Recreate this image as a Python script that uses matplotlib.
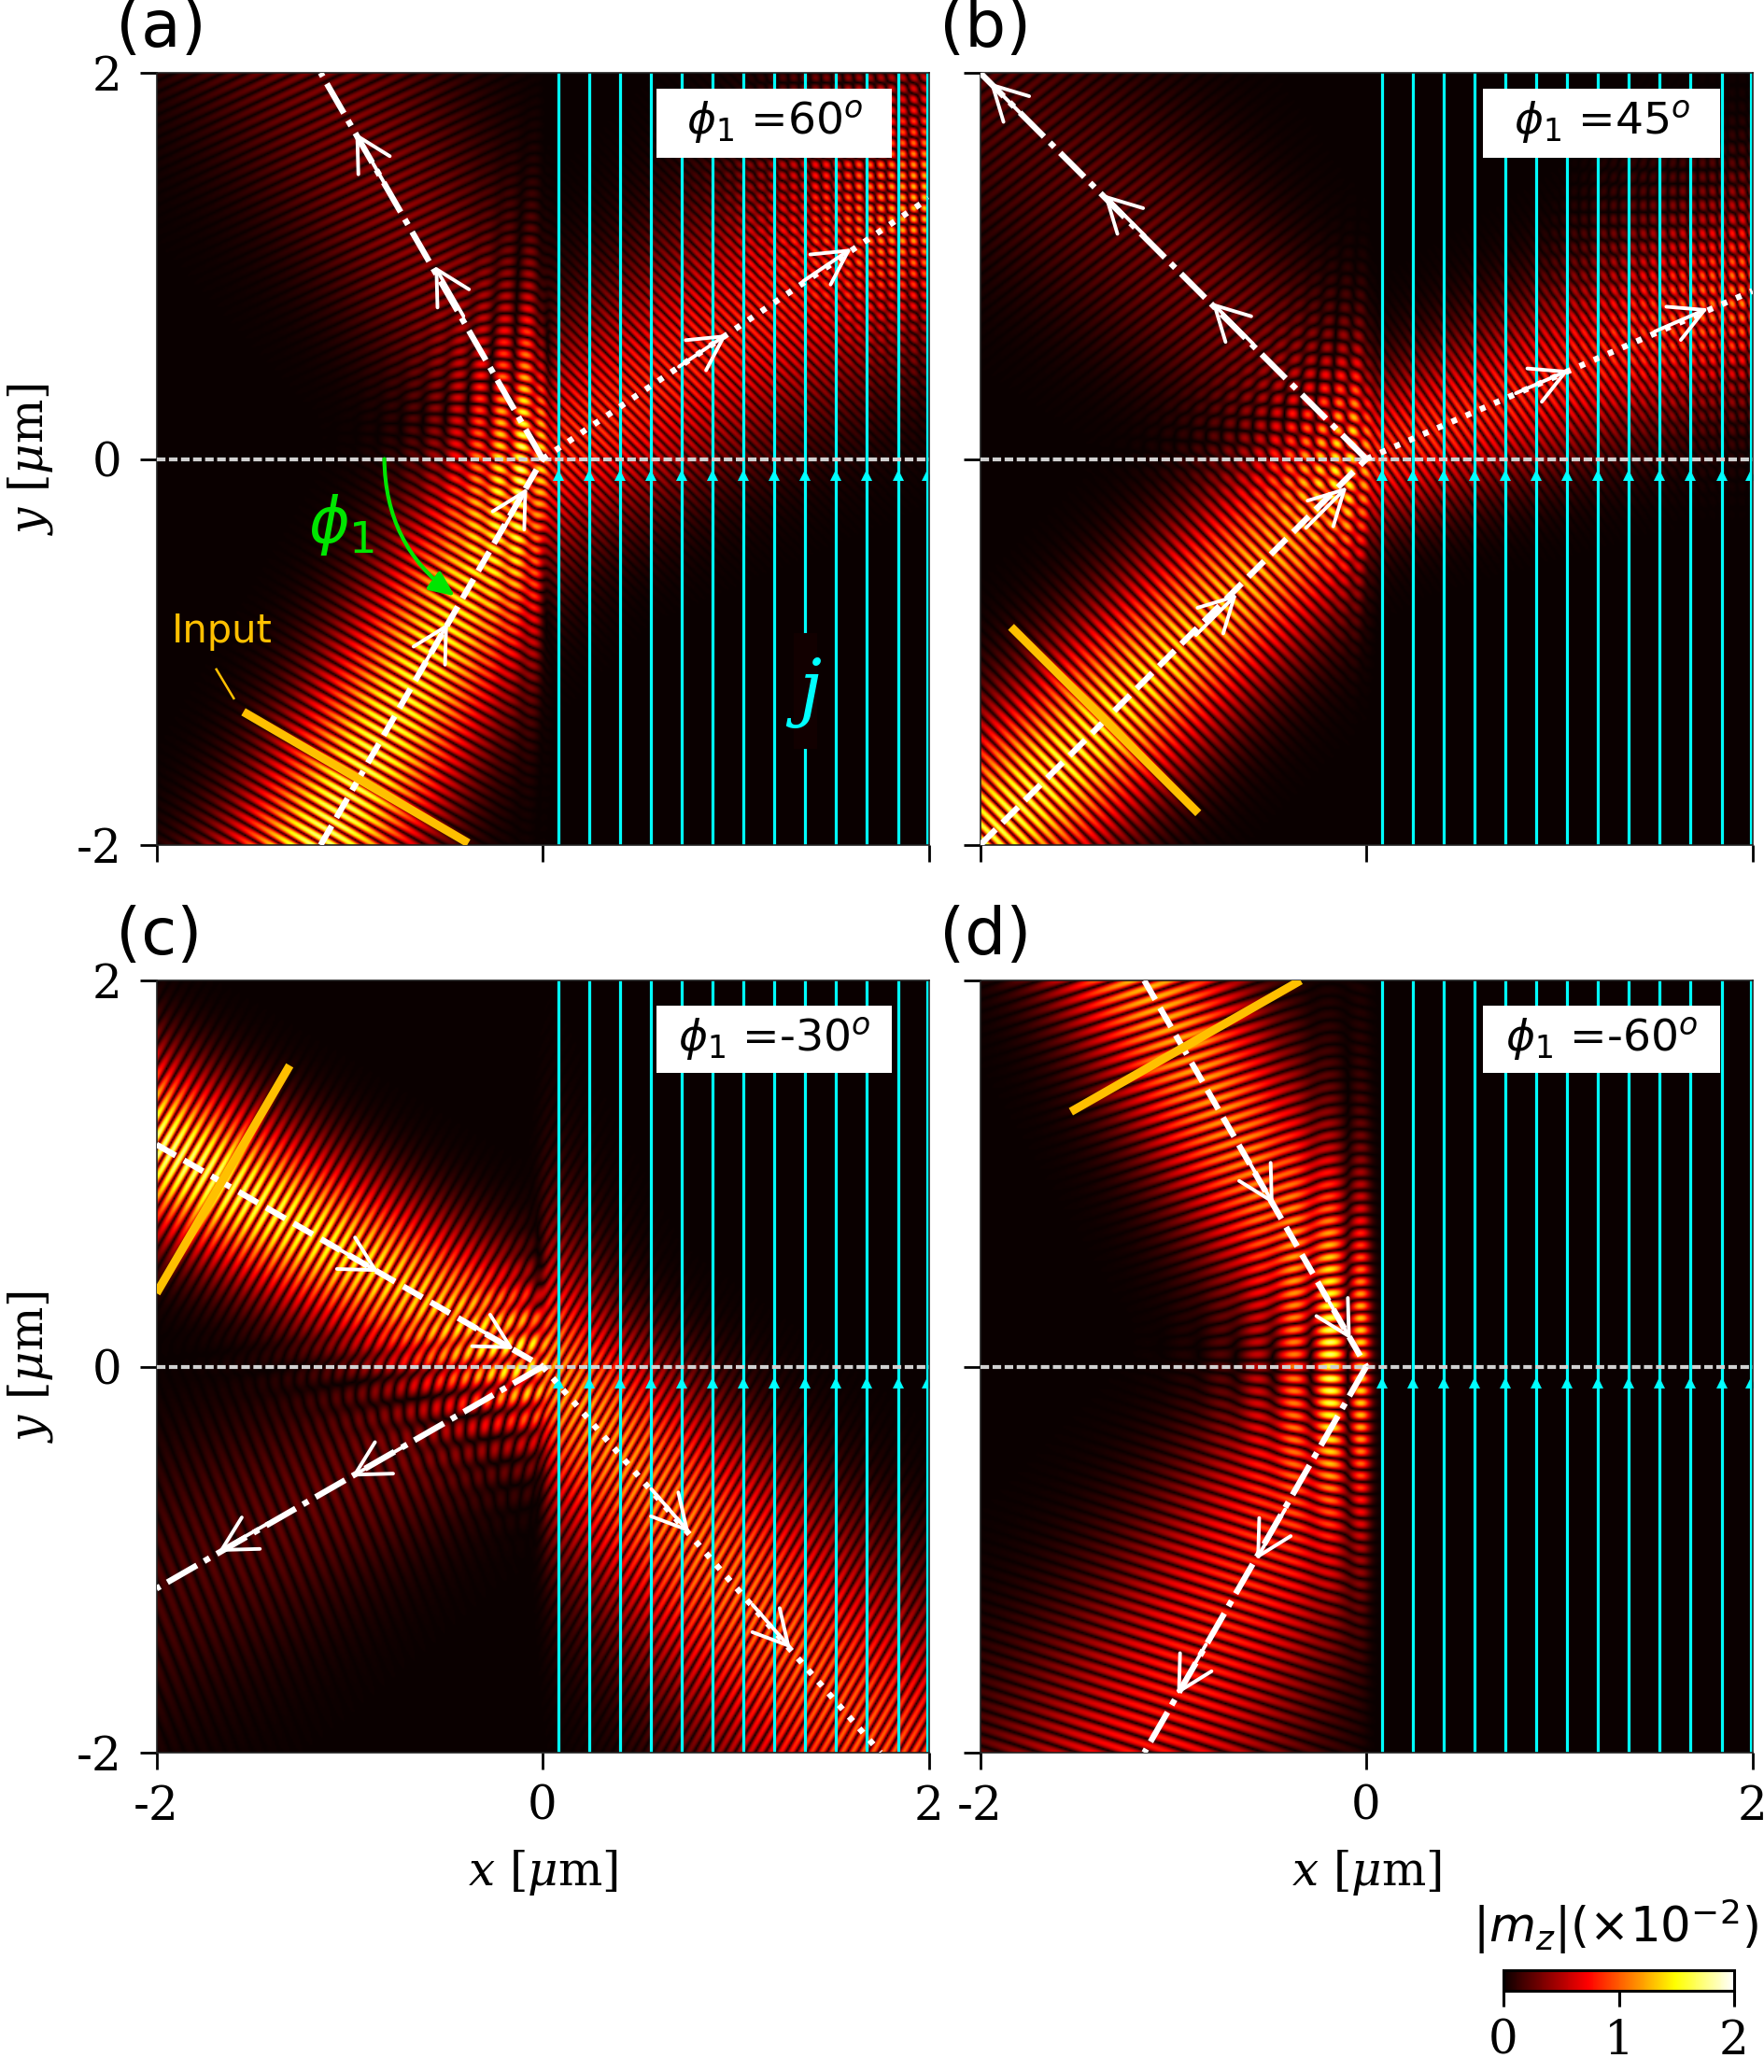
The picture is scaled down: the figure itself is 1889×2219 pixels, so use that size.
import numpy as np
import matplotlib
matplotlib.use('Agg')
from matplotlib import pyplot as plt
from matplotlib.patches import Rectangle

W, H = 1889, 2219
DPI = 100

## panels, order a b c d
panel_tags = ['(a)', '(b)', '(c)', '(d)']
panel_angles = ['60', '45', '-30', '-60']
tick_vals = [-2, 0, 2]
tick_text = ['-2', '0', '2']
cbar_ticks = [0, 1, 2]

## beam directions [deg], wave vector directions [deg]
inc_dir = [60, 45, -30, -60]
inc_k = [60, 45, -30, -72]
ref_dir = [120, 135, 210, 240]
ref_k = [115, 128, 202, 252]
trn_dir = [34, 23.5, -49, 0]
trn_k = [45, 35, -30, 0]

## amplitudes (near interface, far away) and sigma widths in um
inc_amp = [(1.4, 1.75), (1.2, 1.65), (1.25, 1.8), (1.0, 1.3)]
ref_amp = [(0.5, 0.35), (0.45, 0.25), (0.42, 0.2), (1.0, 0.8)]
trn_amp = [(0.95, 0.8), (0.95, 0.8), (1.3, 1.05), (0.0, 0.0)]
inc_w = [0.3, 0.3, 0.27, 0.3]
ref_w = [(0.25, 0.45), (0.25, 0.45), (0.25, 0.45), (0.3, 0.5)]
trn_w = [(0.33, 0.48), (0.25, 0.36), (0.3, 0.48), (0.3, 0.3)]

## fringe periods in um
inc_period = [0.053, 0.053, 0.053, 0.06]
ref_period = [0.053, 0.053, 0.066, 0.06]
trn_period = [0.04, 0.042, 0.046, 0.046]

## reflection off the right edge of the window: origin, dir, k dir, amp
edge_origin = [(2, 1.35), (2, 0.87), None, None]
edge_dir = [146, 156.5, 0, 0]
edge_k = [135, 145, 0, 0]
edge_amp = [(0.6, -0.6), (0.4, -0.4), (0, 0), (0, 0)]

## guide lines, end points in um
inc_end = [(-1.15, -2), (-2, -2), (-2, 1.15), (-1.15, 2)]
ref_end = [(-1.15, 2), (-2, 2), (-2, -1.15), (-1.15, -2)]
trn_end = [(2, 1.35), (2, 0.87), (1.75, -2), None]

## arrow tips along them
inc_tips = [[(-0.49, -0.85), (-0.08, -0.15)], [(-0.67, -0.70), (-0.10, -0.145)],
            [(-0.85, 0.49), (-0.15, 0.09)], [(-0.48, 0.84), (-0.08, 0.14)]]
ref_tips = [[(-0.56, 1.0), (-0.97, 1.69)], [(-0.80, 0.81), (-1.36, 1.37), (-1.95, 1.95)],
            [(-0.99, -0.57), (-1.68, -0.96)], [(-0.57, -1.0), (-0.98, -1.70)]]
trn_tips = [[(0.955, 0.646), (1.6, 1.09)], [(1.05, 0.46), (1.77, 0.78)],
            [(0.76, -0.86), (1.285, -1.46)], []]

## input line end points
input_lines = [((-1.55, -1.31), (-0.385, -1.99)), ((-1.84, -0.87), (-0.87, -1.835)),
               ((-2, 0.38), (-1.31, 1.56)), ((-1.53, 1.32), (-0.34, 2.0))]

## current stream lines
j_x = [0.08, 0.24, 0.40, 0.56, 0.72, 0.88, 1.04, 1.20, 1.36, 1.52, 1.68, 1.84, 1.99]

## label boxes x0,x1,y0,y1
box_x = [(0.59, 1.81), (0.605, 1.835), (0.59, 1.81), (0.605, 1.835)]
box_y = [(1.56, 1.92), (1.56, 1.92), (1.52, 1.87), (1.52, 1.87)]

AX_LEFT = [167.6, 1049.6, 167.6, 1049.6]
AX_TOP = [78, 78, 1050, 1050]
AX_SIZE = 827

plt.rcParams['font.family'] = ['DejaVu Sans']
plt.rcParams['axes.unicode_minus'] = False
plt.rcParams['axes.linewidth'] = 1.2
plt.rcParams['axes.edgecolor'] = '#222222'

grid = np.linspace(-2, 2, 512)
X, Y = np.meshgrid(grid, grid)


def oneBeam(direction, kdir, amp, width, period, origin=(0, 0)):
	dr = np.radians(direction)
	kr = np.radians(kdir)
	xs = X-origin[0]
	ys = Y-origin[1]
	s = xs*np.cos(dr) + ys*np.sin(dr)
	d = -xs*np.sin(dr) + ys*np.cos(dr)
	dist = np.clip(np.abs(s)/2.3, 0, 1)
	a = np.maximum(amp[0] + (amp[1]-amp[0])*dist, 0)
	w = width[0] + (width[1]-width[0])*dist
	phase = np.pi/period*(X*np.cos(kr) + Y*np.sin(kr))
	return a*np.exp(-d**2/(2*w**2))*np.cos(phase)


def panelField(i):
	left = 1/(1 + np.exp(X/0.02))
	right = 1 - left
	inc = oneBeam(inc_dir[i], inc_k[i], inc_amp[i], (inc_w[i], inc_w[i]), inc_period[i])
	ref = oneBeam(ref_dir[i], ref_k[i], ref_amp[i], ref_w[i], ref_period[i])
	trn = oneBeam(trn_dir[i], trn_k[i], trn_amp[i], trn_w[i], trn_period[i])
	if edge_origin[i] is not None:
		trn = trn + oneBeam(edge_dir[i], edge_k[i], edge_amp[i], (0.4, 0.4), trn_period[i], edge_origin[i])
	return np.abs((inc + ref)*left + trn*right)


def arrow(ax, tip, direction):
	tail = (tip[0]-0.3*direction[0], tip[1]-0.3*direction[1])
	ax.annotate('', xy=tip, xytext=tail, zorder=6,
		arrowprops=dict(arrowstyle='->,head_length=2.6,head_width=1.4', color='white',
			lw=2.8, mutation_scale=10, shrinkA=0, shrinkB=0))


def unit(p):
	return np.array(p)/np.hypot(*p)


fig = plt.figure(figsize=(W/DPI, H/DPI), dpi=DPI)

for i in range(4):
	ax = fig.add_axes([AX_LEFT[i]/W, 1-(AX_TOP[i]+AX_SIZE)/H, AX_SIZE/W, AX_SIZE/H])
	im = ax.imshow(panelField(i), cmap='hot', vmin=0, vmax=2, origin='lower',
		extent=[-2, 2, -2, 2], interpolation='bilinear', aspect='auto')
	ax.set_xlim(-2, 2)
	ax.set_ylim(-2, 2)

	for xj in j_x:
		ax.plot([xj, xj], [-2, 2], color='#00FFFF', lw=2.3, zorder=2)
		ax.plot([xj], [-0.085], marker='^', color='#00FFFF', ms=8, mew=0, zorder=2)

	ax.plot([-2, 2], [0, 0], color='#D0D0D0', lw=3, dashes=(2.2, 0.9), zorder=5, dash_capstyle='butt')

	xi, yi = inc_end[i]
	ax.plot([xi, 0], [yi, 0], color='white', lw=4.6, dashes=(3.7, 1.6), zorder=5, dash_capstyle='butt')
	for tip in inc_tips[i]:
		arrow(ax, tip, -unit(inc_end[i]))
	ax.plot([0, ref_end[i][0]], [0, ref_end[i][1]], color='white', lw=4.6,
		dashes=(5.7, 1.4, 1.05, 1.4), zorder=5, dash_capstyle='butt')
	for tip in ref_tips[i]:
		arrow(ax, tip, unit(ref_end[i]))
	if trn_end[i] is not None:
		ax.plot([0, trn_end[i][0]], [0, trn_end[i][1]], color='white', lw=4.6,
			dashes=(0.95, 1.65), zorder=5, dash_capstyle='butt')
		for tip in trn_tips[i]:
			arrow(ax, tip, unit(trn_end[i]))

	p, q = input_lines[i]
	ax.plot([p[0], q[0]], [p[1], q[1]], color='#FFC000', lw=6.5, zorder=5, solid_capstyle='butt')

	bx, by = box_x[i], box_y[i]
	ax.add_patch(Rectangle((bx[0], by[0]), bx[1]-bx[0], by[1]-by[0], fc='white', ec='none', zorder=7))
	ax.text(sum(bx)/2, sum(by)/2, r'$\phi_1$ =' + panel_angles[i] + r'$^o$', fontsize=34,
		ha='center', va='center', zorder=8, math_fontfamily='dejavusans')

	ax.text(-0.053, 1.057, panel_tags[i], transform=ax.transAxes, fontsize=50, ha='left', va='center')

	ax.set_xticks(tick_vals)
	ax.set_yticks(tick_vals)
	ax.tick_params(length=13, width=2, pad=14)
	ax.tick_params(axis='x', pad=11)
	if i >= 2:
		ax.set_xticklabels(tick_text, fontsize=36, family='DejaVu Serif')
		ax.set_xlabel(r'$x$ [$\mu$m]', fontsize=36, family='DejaVu Serif', math_fontfamily='dejavuserif', labelpad=14)
	else:
		ax.set_xticklabels([])
	if i % 2 == 0:
		ax.set_yticklabels(tick_text, fontsize=36, family='DejaVu Serif')
		ax.set_ylabel(r'$y$ [$\mu$m]', fontsize=36, family='DejaVu Serif', math_fontfamily='dejavuserif', labelpad=16)
	else:
		ax.set_yticklabels([])

	if i == 0:
		ax.annotate('', xy=(-0.455, -0.71), xytext=(-0.82, 0), zorder=6,
			arrowprops=dict(arrowstyle='-|>,head_length=0.9,head_width=0.4', color='#00E600', lw=3,
				mutation_scale=18, shrinkA=0, shrinkB=0, connectionstyle='arc3,rad=0.25'))
		ax.text(-1.04, -0.34, r'$\phi_1$', color='#00E600', fontsize=48, ha='center', va='center',
			math_fontfamily='dejavusans', zorder=6)
		ax.plot([-1.69, -1.6], [-1.09, -1.24], color='#FFC000', lw=1.8, zorder=5)
		ax.text(-1.66, -0.89, 'Input', color='#FFC000', fontsize=30, ha='center', va='center', zorder=6)
		ax.add_patch(Rectangle((1.3, -1.5), 0.12, 0.6, fc='#120000', ec='none', zorder=3))
		ax.text(1.354, -1.21, r'$j$', color='#00FFFF', fontsize=56, ha='center', va='center',
			math_fontfamily='dejavuserif', zorder=6)

cax = fig.add_axes([1610/W, 1-2132/H, 247/W, 22/H])
cb = fig.colorbar(im, cax=cax, orientation='horizontal', ticks=cbar_ticks)
cb.ax.set_xticklabels(['0', '1', '2'], fontsize=36, family='DejaVu Serif')
cb.ax.tick_params(length=12, width=2.2, pad=9)
cb.outline.set_linewidth(2.2)
cb.outline.set_edgecolor('black')
fig.text(1730/W, 1-2063/H, r'$|m_z|(\times 10^{-2})$', fontsize=37, ha='center', va='center', math_fontfamily='dejavusans')

fig.savefig('out.png', dpi=DPI)
